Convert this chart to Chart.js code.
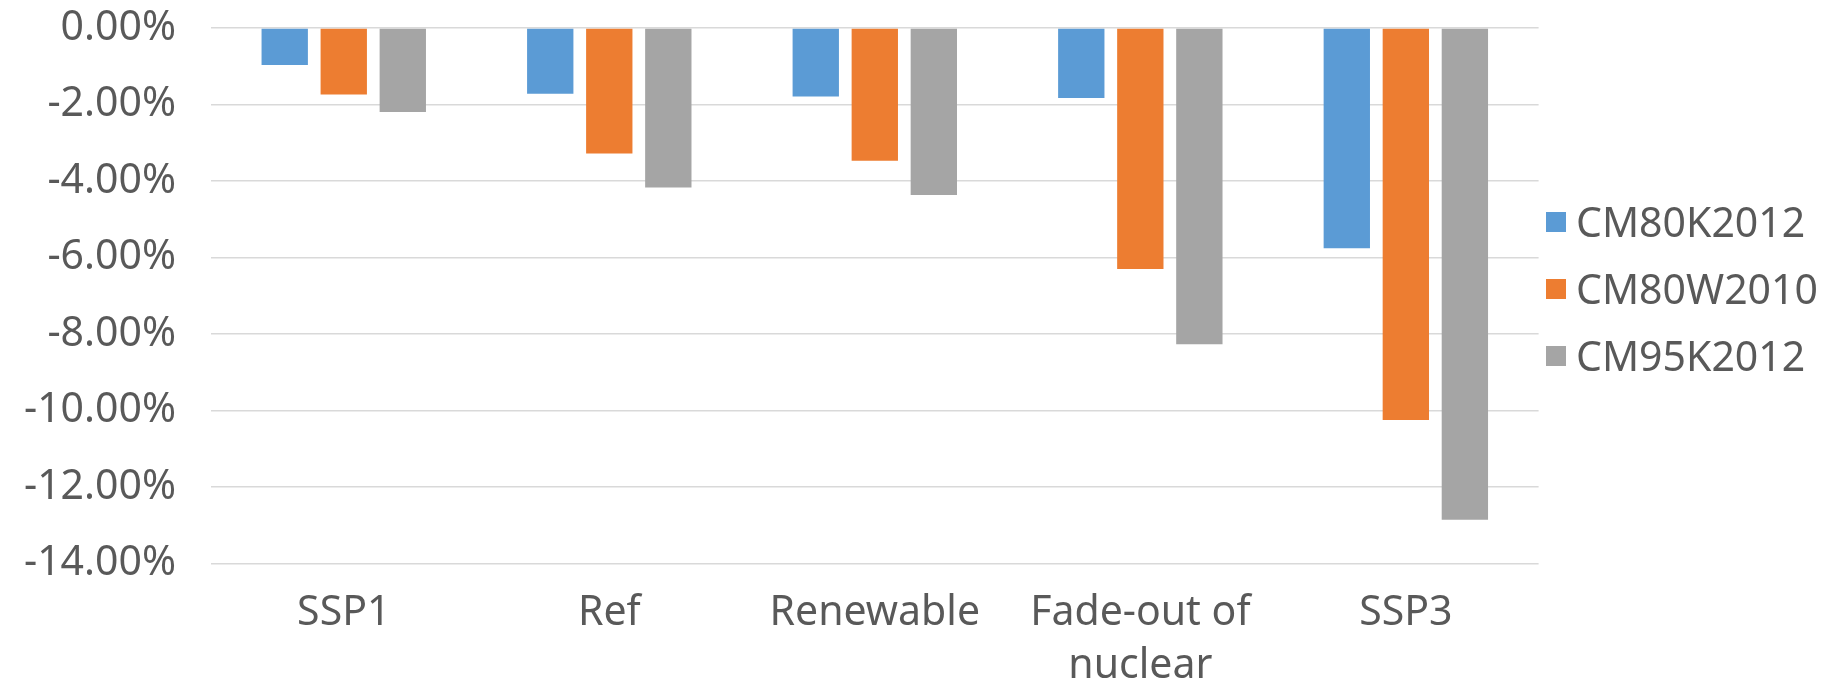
<!DOCTYPE html>
<html>
<head>
<meta charset="utf-8">
<script src="https://cdn.jsdelivr.net/npm/chart.js@4"></script>
<style>
  html, body { margin: 0; padding: 0; background: #ffffff; }
  #wrap { position: relative; width: 1834px; height: 681px; overflow: hidden; }
  #chart { position: absolute; left: 0; top: 0; }
  #legend { position: absolute; left: 1546px; top: 188px; font-family: 'Noto Sans', sans-serif; font-size: 41px; color: #595959; }
  .item { display: flex; align-items: center; height: 67px; line-height: 67px; white-space: nowrap; }
  .swatch { width: 20px; height: 20px; margin-right: 10px; flex: none; }
</style>
</head>
<body>
<div id="wrap">
  <canvas id="chart" width="1834" height="681"></canvas>
  <div id="legend"></div>
</div>
<script>
// Scenario categories along the x axis
const categories = ['SSP1', 'Ref', 'Renewable', ['Fade-out of', 'nuclear'], 'SSP3'];

// Series names and colours
const seriesNames = ['CM80K2012', 'CM80W2010', 'CM95K2012'];
const seriesColors = ['#5B9BD5', '#ED7D31', '#A5A5A5'];

// Change in percent per scenario
const cm80k2012 = [-0.97, -1.72, -1.79, -1.83, -5.76];
const cm80w2010 = [-1.74, -3.28, -3.47, -6.30, -10.25];
const cm95k2012 = [-2.20, -4.17, -4.37, -8.27, -12.86];

// Value axis
const yMin = -14;
const yMax = 0;
const yStep = 2;

const seriesValues = [cm80k2012, cm80w2010, cm95k2012];

const FONT = "'Noto Sans', sans-serif";
const TEXT = '#595959';

const datasets = seriesNames.map((name, i) => ({
  label: name,
  data: seriesValues[i],
  backgroundColor: seriesColors[i],
  borderWidth: 0,
  categoryPercentage: 0.667,
  barPercentage: 0.785
}));

new Chart(document.getElementById('chart'), {
  type: 'bar',
  data: { labels: categories, datasets },
  options: {
    responsive: false,
    animation: false,
    devicePixelRatio: 1,
    layout: { padding: { left: 0, top: 28, right: 295.4, bottom: 0 } },
    plugins: {
      legend: { display: false },
      tooltip: { enabled: false }
    },
    scales: {
      x: {
        grid: { display: false },
        border: { display: false },
        ticks: {
          color: TEXT,
          padding: 15,
          maxRotation: 0,
          autoSkip: false,
          font: { family: FONT, size: 41, lineHeight: 1.3 }
        },
        afterFit(scale) {
          scale.height = 117.7;
          scale.paddingLeft = 0;
          scale.paddingRight = 0;
        }
      },
      y: {
        min: yMin,
        max: yMax,
        grid: { color: '#d9d9d9', lineWidth: 1.6, drawTicks: false },
        border: { display: false },
        ticks: {
          stepSize: yStep,
          color: TEXT,
          padding: 35,
          font: { family: FONT, size: 41, lineHeight: 1.3 },
          callback: v => v.toFixed(2) + '%'
        },
        afterFit(scale) {
          scale.width = 211;
          scale.paddingTop = 0;
          scale.paddingBottom = 0;
        }
      }
    }
  }
});

// Legend beside the plot
const legend = document.getElementById('legend');
seriesNames.forEach((name, i) => {
  const row = document.createElement('div');
  row.className = 'item';
  const sw = document.createElement('span');
  sw.className = 'swatch';
  sw.style.background = seriesColors[i];
  const label = document.createElement('span');
  label.textContent = name;
  row.appendChild(sw);
  row.appendChild(label);
  legend.appendChild(row);
});
</script>
</body>
</html>
